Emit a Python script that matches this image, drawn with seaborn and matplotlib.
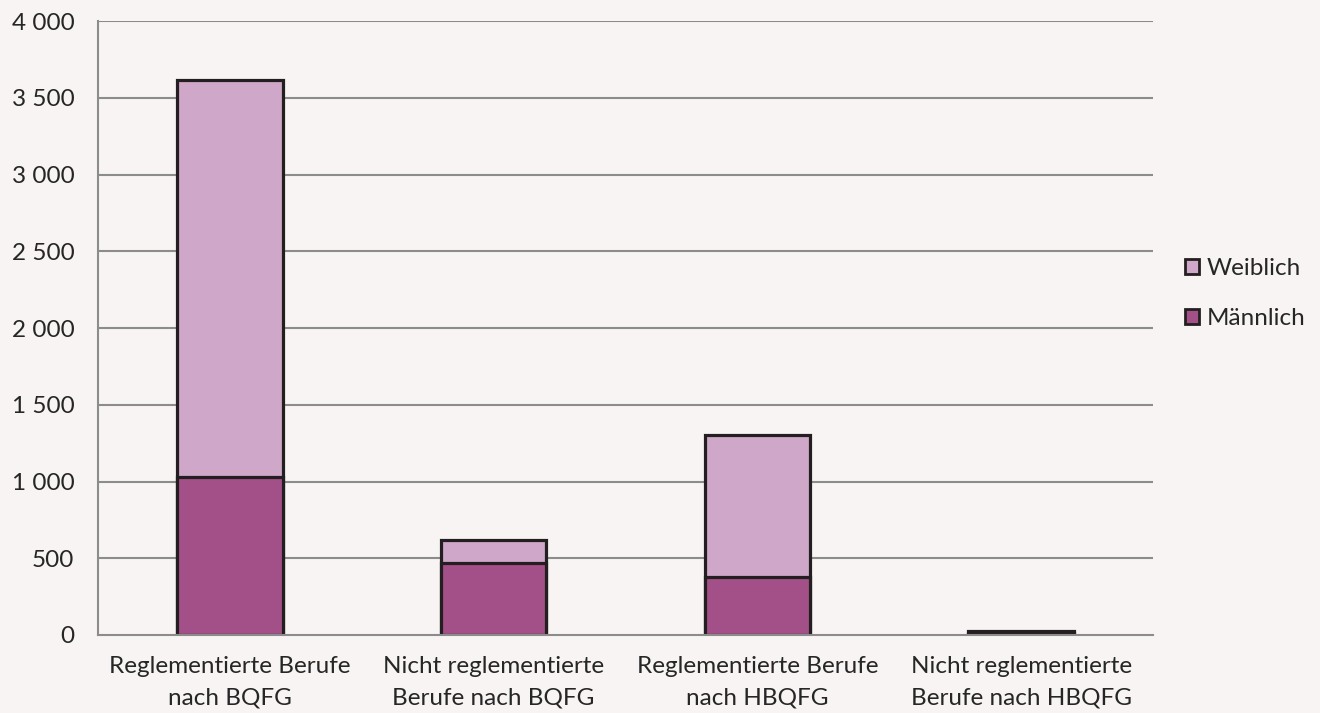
import matplotlib
matplotlib.use("Agg")
import matplotlib.pyplot as plt
import seaborn as sns
import pandas as pd
from matplotlib.patches import Patch

categories = ["Reglementierte Berufe\nnach BQFG", "Nicht reglementierte\nBerufe nach BQFG",
              "Reglementierte Berufe\nnach HBQFG", "Nicht reglementierte\nBerufe nach HBQFG"]
maennlich = [1030, 472, 378, 15]
weiblich = [2586, 150, 925, 8]
yticks = [0, 500, 1000, 1500, 2000, 2500, 3000, 3500, 4000]
ytick_labels = ["0", "500", "1 000", "1 500", "2 000", "2 500", "3 000", "3 500", "4 000"]

sns.set_theme(style="white")
plt.rcParams['font.family'] = ['Lato', 'DejaVu Sans']

bg = "#F7F4F3"
c_w = "#CFA7C8"
c_m = "#A34F88"
edge = "#231F20"
grid = "#8C8C8C"
fs = 17.5

df = pd.DataFrame({"cat": categories,
                   "total": [m + w for m, w in zip(maennlich, weiblich)],
                   "m": maennlich})

fig = plt.figure(figsize=(13.2, 7.13), dpi=100, facecolor=bg)
ax = fig.add_axes([0.0742, 0.1094, 0.7993, 0.8611])
ax.set_facecolor(bg)

for y in yticks[1:]:
    ax.axhline(y, color=grid, lw=1.5, zorder=0)

sns.barplot(data=df, x="cat", y="total", color=c_w, width=0.4, saturation=1,
            edgecolor=edge, linewidth=2.3, ax=ax, zorder=3)
sns.barplot(data=df, x="cat", y="m", color=c_m, width=0.4, saturation=1,
            edgecolor=edge, linewidth=2.3, ax=ax, zorder=4)

ax.set_xlim(-0.5, 3.5)
ax.set_ylim(0, 4000)
ax.set_yticks(yticks)
ax.set_yticklabels(ytick_labels, fontsize=fs, color="#262626")
ax.set_xticks(range(4))
ax.set_xticklabels(categories, fontsize=fs, color="#262626", linespacing=1.6)
ax.set_xticks([-0.5, 0.5, 1.5, 2.5, 3.5], minor=True)
ax.tick_params(axis='x', which='major', length=0, pad=15)
ax.tick_params(axis='x', which='minor', length=7, width=1.5, color=grid, direction='out')
ax.tick_params(axis='y', which='major', length=7, width=1.5, color=grid, direction='out', pad=10)
ax.set_xlabel("")
ax.set_ylabel("")

for s in ["top", "right"]:
    ax.spines[s].set_visible(False)
for s in ["left", "bottom"]:
    ax.spines[s].set_color(grid)
    ax.spines[s].set_linewidth(1.5)
    ax.spines[s].set_zorder(5)

handles = [Patch(facecolor=c_w, edgecolor=edge, linewidth=2, label="Weiblich"),
           Patch(facecolor=c_m, edgecolor=edge, linewidth=2, label="Männlich")]
leg = fig.legend(handles=handles, loc="center left", bbox_to_anchor=(0.881, 0.588),
                 frameon=False, fontsize=fs, handlelength=0.6, handleheight=0.6,
                 handletextpad=0.3, labelspacing=1.2)
for t in leg.get_texts():
    t.set_color("#262626")

fig.savefig("out.png", dpi=100, facecolor=bg)
